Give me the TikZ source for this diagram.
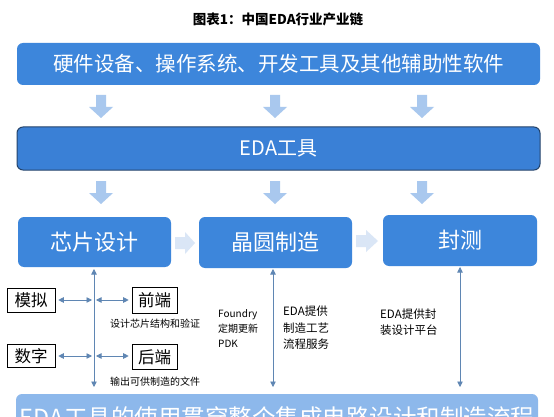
\documentclass[tikz,border=0pt]{standalone}
\usepackage{fontspec}
\setmainfont{Noto Sans CJK SC}
\usetikzlibrary{arrows.meta}
\definecolor{mainblue}{HTML}{3D86DB}
\definecolor{edablue}{HTML}{3A80D6}
\definecolor{edaborder}{HTML}{25446B}
\definecolor{lightarr}{HTML}{A9C8EE}
\definecolor{paleArr}{HTML}{DAE6F6}
\definecolor{bottomblue}{HTML}{8DB8EB}
\definecolor{lineblue}{HTML}{5F86B3}
\newcommand{\bdown}[3]{\fill[lightarr] (#1-5,#2) -- (#1+5,#2) -- (#1+5,#3-11) -- (#1+12,#3-11) -- (#1,#3) -- (#1-12,#3-11) -- (#1-5,#3-11) -- cycle;}
\newcommand{\bright}[3]{\fill[paleArr] (#1,#3-6) -- (#1+10,#3-6) -- (#1+10,#3-11) -- (#2,#3) -- (#1+10,#3+11) -- (#1+10,#3+6) -- (#1,#3+6) -- cycle;}
\tikzset{
  bigbox/.style={fill=mainblue, rounded corners=6pt, text=white, inner sep=0pt},
  smallbox/.style={draw=black, line width=0.6pt, fill=white, inner sep=0pt, font=\fontsize{16.5}{18}\selectfont},
  dbl/.style={draw=lineblue, line width=0.8pt, {Triangle[width=5.5pt,length=5.5pt]}-{Triangle[width=5.5pt,length=5.5pt]}},
  note/.style={anchor=west, inner sep=0pt, align=left, font=\fontsize{10}{15}\selectfont},
  note2/.style={anchor=west, inner sep=0pt, align=left, font=\fontsize{11.5}{16.5}\selectfont},
}
\begin{document}
\begin{tikzpicture}[x=1pt,y=-1pt]
\useasboundingbox (0,0) rectangle (554,417);
\clip (0,0) rectangle (554,417);
\fill[white] (0,0) rectangle (554,417);
\node (title) at (278,19) {\fontsize{13.5}{15}\selectfont\bfseries 图表1：中国EDA行业产业链};
\node[bigbox, minimum width=523pt, minimum height=42pt] (hw) at (278.5,64) {\fontsize{20.5}{24}\selectfont 硬件设备、操作系统、开发工具及其他辅助性软件};
\node[bigbox, fill=edablue, draw=edaborder, line width=1pt, minimum width=523pt, minimum height=43pt] (eda) at (278.5,148.5) {\fontsize{20}{24}\selectfont EDA工具};
\node[bigbox, minimum width=153pt, minimum height=50pt] (chip) at (94.5,242) {\fontsize{22}{26}\selectfont 芯片设计};
\node[bigbox, minimum width=153pt, minimum height=51pt] (wafer) at (275.5,242.5) {\fontsize{22}{26}\selectfont 晶圆制造};
\node[bigbox, minimum width=154pt, minimum height=51pt] (pack) at (460,240.5) {\fontsize{22}{26}\selectfont 封测};
\node[bigbox, fill=bottomblue, minimum width=522pt, minimum height=48pt] (flow) at (277,418) {\fontsize{23.5}{26}\selectfont EDA工具的使用贯穿整个集成电路设计和制造流程};
% block arrows
\bdown{101}{95}{118}
\bdown{275}{95}{118}
\bdown{422}{95}{118}
\bdown{101}{181}{204}
\bdown{275}{181}{204}
\bdown{422}{181}{204}
\bright{175}{195}{243}
\bright{356}{378}{241}
% small boxes
\node[smallbox, minimum width=48pt, minimum height=24pt] (ana) at (31,300) {模拟};
\node[smallbox, minimum width=48pt, minimum height=23pt] (dig) at (31,356) {数字};
\node[smallbox, minimum width=45pt, minimum height=26pt] (fe) at (154.5,300) {前端};
\node[smallbox, minimum width=45pt, minimum height=25pt] (be) at (154.5,357) {后端};
% vertical double arrows
\coordinate (c1t) at (94,269);
\coordinate (c1b) at (94,387);
\coordinate (c2t) at (273,269);
\coordinate (c2b) at (273,387);
\coordinate (c3t) at (460,267);
\coordinate (c3b) at (460,387);
\draw[dbl] (c1t) -- (c1b);
\draw[dbl] (c2t) -- (c2b);
\draw[dbl] (c3t) -- (c3b);
% horizontal double arrows
\coordinate (a1) at (92,300);
\coordinate (a2) at (96,300);
\coordinate (d1) at (92,356);
\coordinate (d2) at (96,356);
\draw[dbl] ([xshift=3pt]ana.east) -- (a1);
\draw[dbl] (a2) -- ([xshift=-3pt]fe.west |- a2);
\draw[dbl] ([xshift=3pt]dig.east) -- (d1);
\draw[dbl] (d2) -- ([xshift=-3pt]be.west |- d2);
% notes
\node[note] (n1) at (110,324) {设计芯片结构和验证};
\node[note] (n2) at (110,382) {输出可供制造的文件};
\node[note] (n3) at (218,329) {Foundry\\定期更新\\PDK};
\node[note2] (n4) at (283,328) {EDA提供\\制造工艺\\流程服务};
\node[note2] (n5) at (380,322) {EDA提供封\\装设计平台};
\end{tikzpicture}
\end{document}
